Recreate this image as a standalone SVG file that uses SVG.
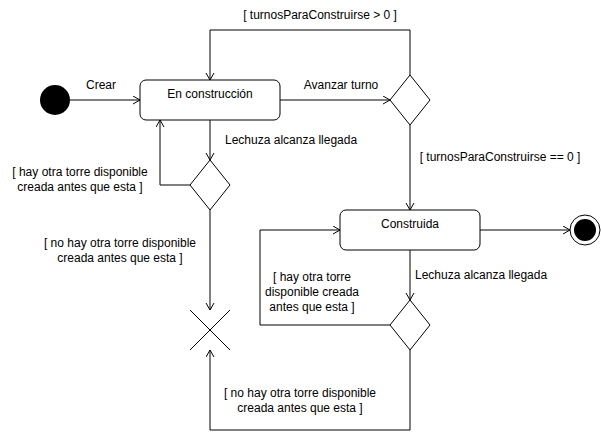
<svg xmlns="http://www.w3.org/2000/svg" width="601" height="439" viewBox="0 0 601 439">
<defs>
<marker id="arr" markerWidth="10" markerHeight="10" refX="8" refY="4.5" orient="auto" markerUnits="userSpaceOnUse">
<path d="M1,0.5 L8,4.5 L1,8.5" fill="none" stroke="#000" stroke-width="1"/>
</marker>
<style>
.ln{fill:none;stroke:#000;stroke-width:1}
.st{fill:#fff;stroke:#000;stroke-width:1}
text{font-family:"Liberation Sans",Arial,sans-serif;font-size:12px;fill:#000}
.c{text-anchor:middle}
</style>
</defs>
<rect width="601" height="439" fill="#fff"/>
<g id="connectors">
<path class="ln" d="M70,100 H140" marker-end="url(#arr)"/>
<path class="ln" d="M280,100 H390" marker-end="url(#arr)"/>
<path class="ln" d="M410,75 V30 H210 V80" marker-end="url(#arr)"/>
<path class="ln" d="M410,125 V210" marker-end="url(#arr)"/>
<path class="ln" d="M210,120 V160" marker-end="url(#arr)"/>
<path class="ln" d="M190,185 H160 V120" marker-end="url(#arr)"/>
<path class="ln" d="M210,210 V310" marker-end="url(#arr)"/>
<path class="ln" d="M480,230 H570" marker-end="url(#arr)"/>
<path class="ln" d="M410,250 V300" marker-end="url(#arr)"/>
<path class="ln" d="M390,325 H260 V230 H340" marker-end="url(#arr)"/>
<path class="ln" d="M410,350 V430 H210 V350" marker-end="url(#arr)"/>
<text class="c" x="101" y="89">Crear</text>
<text class="c" x="341" y="89">Avanzar turno</text>
<text class="c" x="320" y="19">[ turnosParaConstruirse &gt; 0 ]</text>
<text class="c" x="500" y="161">[ turnosParaConstruirse == 0 ]</text>
<text x="225" y="144">Lechuza alcanza llegada</text>
<text class="c" x="80" y="176">[ hay otra torre disponible</text>
<text class="c" x="80" y="191">creada antes que esta ]</text>
<text class="c" x="120" y="247">[ no hay otra torre disponible</text>
<text class="c" x="120" y="262">creada antes que esta ]</text>
<text x="415" y="279">Lechuza alcanza llegada</text>
<text class="c" x="312" y="281">[ hay otra torre</text>
<text class="c" x="312" y="296">disponible creada</text>
<text class="c" x="312" y="311">antes que esta ]</text>
<text class="c" x="300" y="397">[ no hay otra torre disponible</text>
<text class="c" x="300" y="412">creada antes que esta ]</text>
</g>
<g id="initial"><circle cx="55" cy="100" r="15" fill="#000"/></g>
<g id="en-construccion"><rect class="st" x="140" y="80" width="140" height="40" rx="6"/><text class="c" x="210" y="98">En construcción</text></g>
<g id="decision1"><path class="st" d="M410,75 L430,100 L410,125 L390,100 Z"/></g>
<g id="decision2"><path class="st" d="M210,160 L230,185 L210,210 L190,185 Z"/></g>
<g id="construida"><rect class="st" x="340" y="210" width="140" height="40" rx="6"/><text class="c" x="410" y="228">Construida</text></g>
<g id="decision3"><path class="st" d="M410,300 L430,325 L410,350 L390,325 Z"/></g>
<g id="flow-final"><path class="ln" d="M190,310 L230,350 M230,310 L190,350"/></g>
<g id="final"><circle cx="585" cy="230" r="15" fill="#fff" stroke="#000"/><circle cx="585" cy="230" r="11" fill="#000"/></g>
</svg>
